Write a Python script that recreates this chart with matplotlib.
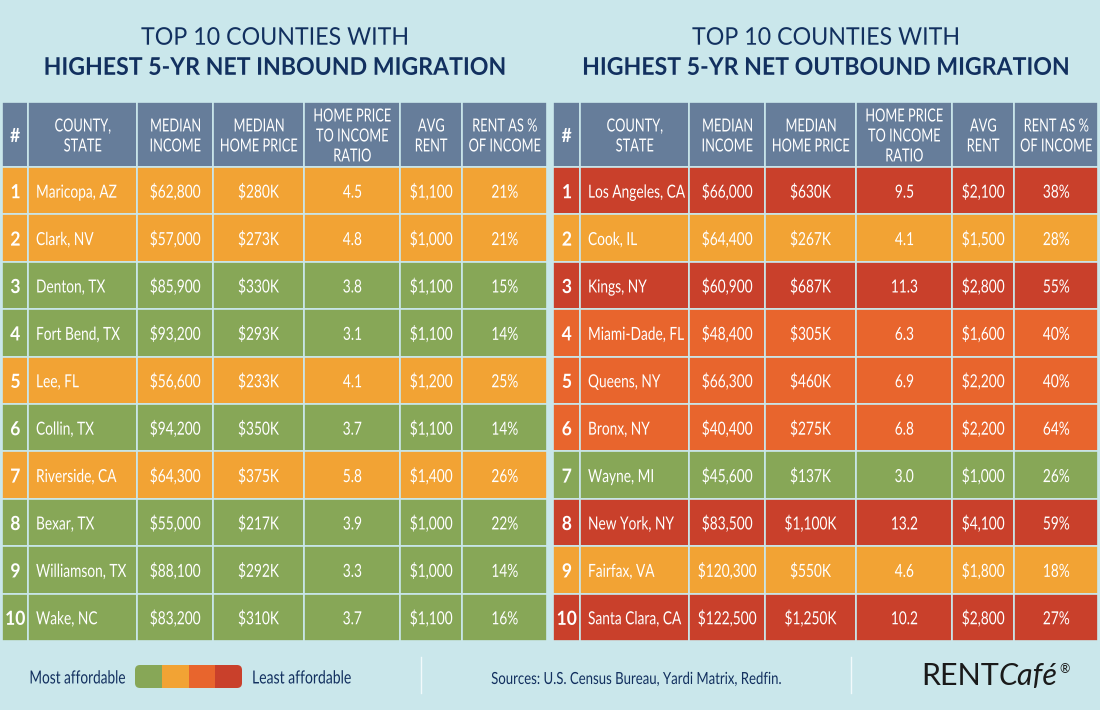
import matplotlib
matplotlib.use("Agg")
import matplotlib.pyplot as plt
from matplotlib.patches import Rectangle, FancyBboxPatch
from matplotlib.text import Text
from matplotlib.textpath import TextPath
from matplotlib.transforms import Affine2D

BG = "#CAE7EB"
HEAD = "#667D9A"
NAVY = "#12305F"
GRID = "#CAE7EB"
COLORS = ["#87A757", "#F2A334", "#E8652D", "#C9402B"]

headers = ["#", "COUNTY,\nSTATE", "MEDIAN\nINCOME", "MEDIAN\nHOME PRICE",
           "HOME PRICE\nTO INCOME\nRATIO", "AVG\nRENT", "RENT AS %\nOF INCOME"]

in_county = ["Maricopa, AZ", "Clark, NV", "Denton, TX", "Fort Bend, TX", "Lee, FL",
             "Collin, TX", "Riverside, CA", "Bexar, TX", "Williamson, TX", "Wake, NC"]
in_income = ["$62,800", "$57,000", "$85,900", "$93,200", "$56,600",
             "$94,200", "$64,300", "$55,000", "$88,100", "$83,200"]
in_price = ["$280K", "$273K", "$330K", "$293K", "$233K",
            "$350K", "$375K", "$217K", "$292K", "$310K"]
in_ratio = ["4.5", "4.8", "3.8", "3.1", "4.1", "3.7", "5.8", "3.9", "3.3", "3.7"]
in_rent = ["$1,100", "$1,000", "$1,100", "$1,100", "$1,200",
           "$1,100", "$1,400", "$1,000", "$1,000", "$1,100"]
in_share = ["21%", "21%", "15%", "14%", "25%", "14%", "26%", "22%", "14%", "16%"]
in_level = [1, 1, 0, 0, 1, 0, 1, 0, 0, 0]

out_county = ["Los Angeles, CA", "Cook, IL", "Kings, NY", "Miami-Dade, FL", "Queens, NY",
              "Bronx, NY", "Wayne, MI", "New York, NY", "Fairfax, VA", "Santa Clara, CA"]
out_income = ["$66,000", "$64,400", "$60,900", "$48,400", "$66,300",
              "$40,400", "$45,600", "$83,500", "$120,300", "$122,500"]
out_price = ["$630K", "$267K", "$687K", "$305K", "$460K",
             "$275K", "$137K", "$1,100K", "$550K", "$1,250K"]
out_ratio = ["9.5", "4.1", "11.3", "6.3", "6.9", "6.8", "3.0", "13.2", "4.6", "10.2"]
out_rent = ["$2,100", "$1,500", "$2,800", "$1,600", "$2,200",
            "$2,200", "$1,000", "$4,100", "$1,800", "$2,800"]
out_share = ["38%", "28%", "55%", "40%", "40%", "64%", "26%", "59%", "18%", "27%"]
out_level = [3, 1, 3, 2, 2, 2, 0, 3, 1, 3]

# layout in pixels
left_widths = [26, 109, 76, 91, 96, 62, 85]
right_widths = [27, 109, 76, 91, 96, 62, 84]
head_top, head_bot, table_bot = 102, 167, 641
row_h = (table_bot - head_bot) / 10


class NarrowText(Text):
    # no condensed font installed, so squeeze the glyphs sideways when drawing
    def __init__(self, x, y, s, squeeze=0.76, **kw):
        super().__init__(x, y, s, **kw)
        self.squeeze = squeeze

    def _shape(self, renderer):
        fp = self.get_fontproperties()
        size = renderer.points_to_pixels(self.get_fontsize())
        path = TextPath((0, 0), self.get_text(), size=size, prop=fp)
        cap = TextPath((0, 0), "H", size=size, prop=fp).get_extents().height
        x, y = self.get_transform().transform(self.get_unitless_position())
        ext = path.get_extents()
        w = ext.x1 * self.squeeze
        dx = {"left": 0, "center": -w / 2, "right": -w}[self.get_ha()]
        return path, Affine2D().scale(self.squeeze, 1).translate(x + dx, y - cap / 2)

    def get_window_extent(self, renderer=None, dpi=None):
        renderer = renderer or self.get_figure().canvas.get_renderer()
        path, tr = self._shape(renderer)
        return path.get_extents(tr)

    def draw(self, renderer):
        path, tr = self._shape(renderer)
        gc = renderer.new_gc()
        gc.set_linewidth(0)
        renderer.draw_path(gc, path, tr, matplotlib.colors.to_rgba(self.get_color()))
        gc.restore()


def label(ax, x, y, s, size=13, color="white", ha="center", squeeze=0.76, weight="normal"):
    ax.add_artist(NarrowText(x, y, s, squeeze=squeeze, color=color, ha=ha, family="Lato",
                             fontsize=size, fontweight=weight))


def draw_table(ax, left, widths, columns, levels):
    xs = [left]
    for w in widths:
        xs.append(xs[-1] + w)
    for j, head in enumerate(headers):
        ax.add_patch(Rectangle((xs[j], head_top), widths[j], head_bot - head_top,
                               fc=HEAD, ec=GRID, lw=1.2))
        lines = head.split("\n")
        for k, line in enumerate(lines):
            yc = 135 + (k - (len(lines) - 1) / 2) * 20
            if j == 0:
                label(ax, xs[j] + widths[j] / 2, yc, line, size=14, squeeze=0.9, weight="bold")
            else:
                label(ax, xs[j] + widths[j] / 2, yc, line, size=13, squeeze=0.71)
    for i in range(10):
        y = head_bot + i * row_h
        for j in range(7):
            ax.add_patch(Rectangle((xs[j], y), widths[j], row_h,
                                   fc=COLORS[levels[i]], ec=GRID, lw=1.2))
        yc = y + row_h / 2 + 0.5
        label(ax, xs[0] + widths[0] / 2, yc, str(i + 1), size=14, squeeze=0.9, weight="bold")
        label(ax, xs[1] + 8, yc, columns[0][i], ha="left")
        for j, col in enumerate(columns[1:], start=2):
            label(ax, xs[j] + widths[j] / 2, yc, col[i])


fig = plt.figure(figsize=(11, 7.1), dpi=100, facecolor=BG)
ax = fig.add_axes([0, 0, 1, 1])
ax.set_xlim(0, 1100)
ax.set_ylim(710, 0)
ax.axis("off")

for cx, second in [(274, "HIGHEST 5-YR NET INBOUND MIGRATION"), (825, "HIGHEST 5-YR NET OUTBOUND MIGRATION")]:
    label(ax, cx, 36, "TOP 10 COUNTIES WITH", size=17.5, color=NAVY, squeeze=0.955)
    label(ax, cx, 66, second, size=17.5, color=NAVY, squeeze=0.95, weight="bold")

draw_table(ax, 2, left_widths, [in_county, in_income, in_price, in_ratio, in_rent, in_share], in_level)
draw_table(ax, 553, right_widths, [out_county, out_income, out_price, out_ratio, out_rent, out_share], out_level)

# legend strip
label(ax, 125, 677, "Most affordable", size=13, color=NAVY, ha="right", squeeze=0.755)
label(ax, 252, 677, "Least affordable", size=13, color=NAVY, ha="left", squeeze=0.775)
clip = FancyBboxPatch((135, 665), 107, 23, boxstyle="round,pad=0,rounding_size=5", fc="none", ec="none")
ax.add_patch(clip)
for k, c in enumerate(COLORS):
    seg = Rectangle((135 + k * 26.75, 665), 26.75, 23, fc=c, ec="none")
    ax.add_patch(seg)
    seg.set_clip_path(clip)

for x in (421, 851):
    ax.plot([x, x], [657, 693], color="#F2FAFB", lw=1)
label(ax, 636, 678, "Sources: U.S. Census Bureau, Yardi Matrix, Redfin.", size=12, color=NAVY, squeeze=0.79)

# logo text
t = ax.text(921, 676, "RENT", color="#1A1A1A", ha="left", va="center", family="Lato", fontsize=22)
fig.canvas.draw()
bb = t.get_window_extent().transformed(ax.transData.inverted())
t2 = ax.text(bb.x1, 676, "Café", color="#1A1A1A", ha="left", va="center", family="Lato",
             fontsize=22, style="italic")
ax.text(1059, 669, "®", color="#1A1A1A", ha="left", va="center", family="Lato", fontsize=9)

fig.savefig("out.png", dpi=100, facecolor=BG)
